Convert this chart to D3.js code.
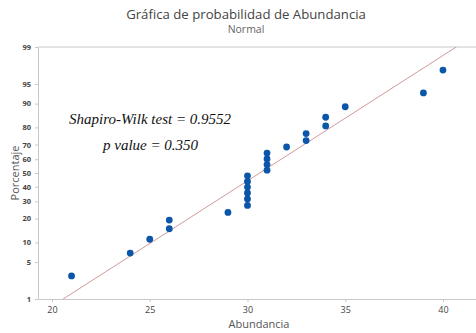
<!DOCTYPE html>
<html>
<head>
<meta charset="utf-8">
<script src="https://cdn.jsdelivr.net/npm/d3@7"></script>
<style>
  html, body { margin: 0; padding: 0; background: #fff; }
  svg { display: block; }
</style>
</head>
<body>
<svg id="chart" width="476" height="333"></svg>
<script>
// Abundancia observations (sorted)
const abundancia = [21, 24, 25, 26, 26, 29, 30, 30, 30, 30, 30, 30, 31, 31, 31, 31, 32, 33, 33, 34, 34, 35, 39, 40];
const xTicks = [20, 25, 30, 35, 40];
const pctTicks = [1, 5, 10, 20, 30, 40, 50, 60, 70, 80, 90, 95, 99];
const statLines = ["Shapiro-Wilk test = 0.9552", "p value = 0.350"];

// Inverse standard normal CDF (Acklam)
function qnorm(p) {
  const a = [-3.969683028665376e+01, 2.209460984245205e+02, -2.759285104469687e+02, 1.383577518672690e+02, -3.066479806614716e+01, 2.506628277459239e+00];
  const b = [-5.447609879822406e+01, 1.615858368580409e+02, -1.556989798598866e+02, 6.680131188771972e+01, -1.328068155288572e+01];
  const c = [-7.784894002430293e-03, -3.223964580411365e-01, -2.400758277161838e+00, -2.549732539343734e+00, 4.374664141464968e+00, 2.938163982698783e+00];
  const d = [7.784695709041462e-03, 3.224671290700398e-01, 2.445134137142996e+00, 3.754408661907416e+00];
  const pl = 0.02425, ph = 1 - pl;
  let q, r;
  if (p < pl) {
    q = Math.sqrt(-2 * Math.log(p));
    return (((((c[0]*q+c[1])*q+c[2])*q+c[3])*q+c[4])*q+c[5]) / ((((d[0]*q+d[1])*q+d[2])*q+d[3])*q+1);
  } else if (p <= ph) {
    q = p - 0.5; r = q * q;
    return (((((a[0]*r+a[1])*r+a[2])*r+a[3])*r+a[4])*r+a[5])*q / (((((b[0]*r+b[1])*r+b[2])*r+b[3])*r+b[4])*r+1);
  } else {
    q = Math.sqrt(-2 * Math.log(1 - p));
    return -(((((c[0]*q+c[1])*q+c[2])*q+c[3])*q+c[4])*q+c[5]) / ((((d[0]*q+d[1])*q+d[2])*q+d[3])*q+1);
  }
}

const svg = d3.select("#chart");
const W = 476, H = 333;
const m = { left: 38, right: 0, top: 47, bottom: 34 };

const x = d3.scaleLinear().domain([19.284, 41.69]).range([m.left, W - m.right]);
const y = d3.scaleLinear().domain([qnorm(0.01), qnorm(0.99)]).range([H - m.bottom, m.top]);

const n = abundancia.length;
const pts = abundancia.map((v, i) => ({ v, p: (i + 1 - 0.3) / (n + 0.4) }));

const mean = d3.mean(abundancia);
const sd = d3.deviation(abundancia);

// Titles
svg.append("text").attr("x", 246).attr("y", 19).attr("text-anchor", "middle")
  .attr("font-family", "Open Sans, Noto Sans, sans-serif").attr("font-size", 13.2)
  .attr("fill", "#444").text("Gráfica de probabilidad de Abundancia");
svg.append("text").attr("x", 246).attr("y", 33).attr("text-anchor", "middle")
  .attr("font-family", "Open Sans, Noto Sans, sans-serif").attr("font-size", 10.5)
  .attr("fill", "#666").text("Normal");

// Frame lines
svg.append("line").attr("x1", m.left).attr("x2", W).attr("y1", m.top).attr("y2", m.top)
  .attr("stroke", "#c8c8c8").attr("stroke-width", 1);

const gx = svg.append("g").attr("transform", `translate(0,${H - m.bottom})`)
  .call(d3.axisBottom(x).tickValues(xTicks).tickSize(3).tickSizeOuter(0));
const gy = svg.append("g").attr("transform", `translate(${m.left},0)`)
  .call(d3.axisLeft(y).tickValues(pctTicks.map(p => qnorm(p / 100)))
    .tickFormat((d, i) => pctTicks[i]).tickSize(3).tickSizeOuter(0));

[gx, gy].forEach(g => {
  g.select(".domain").attr("stroke", "#c8c8c8");
  g.selectAll(".tick line").attr("stroke", "#c8c8c8");
  g.selectAll(".tick text").attr("fill", "#444")
    .attr("font-family", "Open Sans, Noto Sans, sans-serif");
});
gx.selectAll(".tick text").attr("font-size", 9).attr("dy", "0.9em");
gy.selectAll(".tick text").attr("font-size", 7.5).attr("font-weight", "bold").attr("dx", "-1");

// Axis titles
svg.append("text").attr("x", 259).attr("y", 328).attr("text-anchor", "middle")
  .attr("font-family", "Open Sans, Noto Sans, sans-serif").attr("font-size", 11)
  .attr("fill", "#555").text("Abundancia");
svg.append("text").attr("transform", "translate(19,173) rotate(-90)").attr("text-anchor", "middle")
  .attr("font-family", "Open Sans, Noto Sans, sans-serif").attr("font-size", 11)
  .attr("fill", "#555").text("Porcentaje");

// Fitted normal line
const plot = svg.append("g");
const zLo = qnorm(0.01), zHi = qnorm(0.99);
plot.append("line")
  .attr("x1", x(mean + zLo * sd)).attr("y1", y(zLo))
  .attr("x2", x(mean + zHi * sd)).attr("y2", y(zHi))
  .attr("stroke", "#d49a9a").attr("stroke-width", 1);

// Points
plot.selectAll("circle").data(pts).join("circle")
  .attr("cx", d => x(d.v)).attr("cy", d => y(qnorm(d.p)))
  .attr("r", 3.4).attr("fill", "#0a56a8");

// Test statistics
svg.append("text").attr("x", 69).attr("y", 124)
  .attr("font-family", "Liberation Serif, Times New Roman, serif").attr("font-style", "italic")
  .attr("font-size", 15).attr("fill", "#111").text(statLines[0]);
svg.append("text").attr("x", 103).attr("y", 150)
  .attr("font-family", "Liberation Serif, Times New Roman, serif").attr("font-style", "italic")
  .attr("font-size", 15).attr("fill", "#111").text(statLines[1]);
</script>
</body>
</html>
